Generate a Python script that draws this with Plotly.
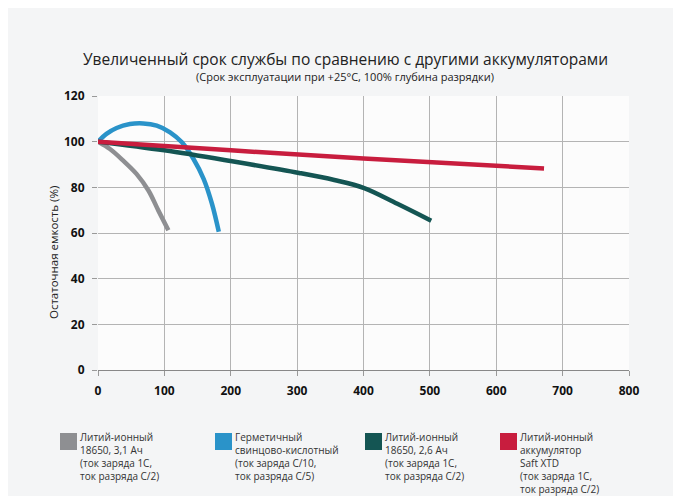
import plotly.graph_objects as go

# ---------------- Data ----------------
legend_names = [
    "Литий-ионный<br>18650, 3,1 Ач<br>(ток заряда 1С,<br>ток разряда С/2)",
    "Герметичный<br>свинцово-кислотный<br>(ток заряда С/10,<br>ток разряда С/5)",
    "Литий-ионный<br>18650, 2,6 Ач<br>(ток заряда 1С,<br>ток разряда С/2)",
    "Литий-ионный<br>аккумулятор<br>Saft XTD<br>(ток заряда 1С,<br>ток разряда С/2)",
]
colors = ["#8e8f92", "#2a93c9", "#145553", "#c81d3e"]

gray_x = [0, 18, 38, 58, 76, 91, 106]
gray_y = [100, 96.8, 91.7, 85.9, 78.6, 69.8, 61.2]

blue_x = [0, 12.7, 28, 48, 68, 88.5, 108.6, 126.4, 143.9, 159.1, 171.8, 182]
blue_y = [100, 103.4, 106.0, 107.7, 108.0, 107.0, 104.1, 99.7, 92.4, 83.7, 72.7, 60.5]

green_x = [0, 100, 202, 303, 356, 401, 451, 502]
green_y = [100, 96.2, 91.4, 86.3, 83.2, 79.7, 72.8, 65.4]

red_x = [0, 200, 400, 672]
red_y = [100, 96.2, 92.6, 88.3]

x_ticks = [0, 100, 200, 300, 400, 500, 600, 700, 800]
y_ticks = [0, 20, 40, 60, 80, 100, 120]

title = "Увеличенный срок службы по сравнению с другими аккумуляторами"
subtitle = "(Срок эксплуатации при +25°C, 100% глубина разрядки)"
y_title = "Остаточная емкость (%)"

series = [(gray_x, gray_y), (blue_x, blue_y), (green_x, green_y), (red_x, red_y)]

# ---------------- Layout geometry (screen pixels) ----------------
W, H = 681, 496
OFF = 8  # page body margin
PL, PR, PT, PB = 98, 629, 96, 370  # plot area on screen
L = PL - OFF
T = PT - OFF
R = W - (PR - OFF)
B = H - (PB - OFF)
PW, PH = PR - PL, PB - PT


def px(xs):
    return (xs - PL) / PW


def py(ys):
    return (PB - ys) / PH


FONT = "Open Sans, Noto Sans, sans-serif"

fig = go.Figure()
for (xs, ys), c in zip(series, colors):
    fig.add_trace(go.Scatter(x=xs, y=ys, mode="lines",
                             line=dict(color=c, width=4.5, shape="spline", smoothing=1.0),
                             showlegend=False, hoverinfo="skip"))

fig.update_layout(
    width=W, height=H,
    margin=dict(l=L, r=R, t=T, b=B, autoexpand=False),
    paper_bgcolor="#f4f5f6",
    plot_bgcolor="#fcfcfc",
    font=dict(family=FONT, color="#222"),
    showlegend=False,
)

# Titles
fig.add_annotation(text=title, x=px(345), xref="paper", xanchor="center",
                   y=py(59), yref="paper", yanchor="middle", borderpad=0,
                   showarrow=False, font=dict(size=15.5, color="#222", family=FONT))
fig.add_annotation(text=subtitle, x=px(345), xref="paper", xanchor="center",
                   y=py(76.5), yref="paper", yanchor="middle", borderpad=0,
                   showarrow=False, font=dict(size=11, color="#222", family=FONT))

# Y-axis title
fig.add_annotation(text=y_title, x=px(53), xref="paper", xanchor="center",
                   y=py(253), yref="paper", yanchor="middle", textangle=-90,
                   showarrow=False, font=dict(size=11.5, color="#222", family=FONT))

# Custom legend: colour squares + multi-line labels
leg_sq_x = [60, 215, 365, 500]
for n, c, sx in zip(legend_names, colors, leg_sq_x):
    fig.add_shape(type="rect", xref="paper", yref="paper",
                  x0=px(sx), x1=px(sx + 17), y0=py(433), y1=py(450),
                  fillcolor=c, line=dict(width=0))
    fig.add_annotation(text=n, x=px(sx + 19), xref="paper", xanchor="left",
                       y=py(428.5), yref="paper", yanchor="top",
                       align="left", showarrow=False, borderpad=0,
                       font=dict(size=10, color="#333", family=FONT))

axis_font = dict(size=12, color="#111", family=FONT, weight="bold")
fig.update_xaxes(range=[0, 800], tickvals=x_ticks, showgrid=True, gridcolor="#b4b4b4", gridwidth=1.3,
                 ticks="outside", ticklen=5, tickcolor="#999", zeroline=False,
                 showline=True, linecolor="#888", linewidth=1.3, automargin=False,
                 ticklabelstandoff=4, tickfont=axis_font)
fig.update_yaxes(range=[0, 120], tickvals=y_ticks, showgrid=True, gridcolor="#b4b4b4", gridwidth=1.3,
                 ticks="outside", ticklen=5, tickcolor="#999", zeroline=False,
                 showline=False, automargin=False, ticklabelstandoff=5,
                 tickfont=axis_font)

fig.write_html("out.html")
